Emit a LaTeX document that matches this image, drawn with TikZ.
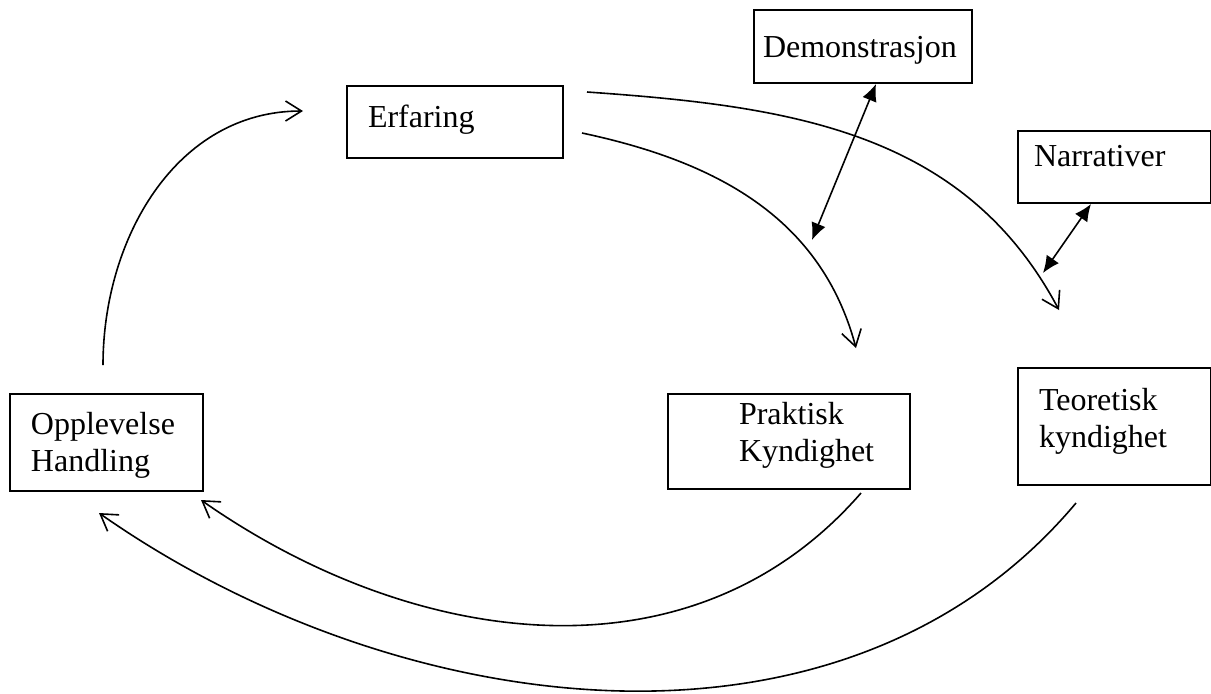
\documentclass[tikz,border=0pt]{standalone}
\usepackage{fontspec}
\setmainfont{Liberation Serif}
\usepackage{tikz}
\usetikzlibrary{arrows.meta}

\begin{document}
\begin{tikzpicture}[x=0.5pt,y=-0.5pt,
    box/.style={draw,line width=1pt,anchor=north west,align=left,inner ysep=0pt,
                font=\fontsize{16}{18.5}\selectfont},
    flow/.style={line width=0.8pt,-{Straight Barb[length=8pt,width=10pt]}},
    link/.style={line width=0.8pt,{Latex[length=8.5pt,width=7.5pt]}-{Latex[length=8.5pt,width=7.5pt]}}]
\useasboundingbox (0,0) rectangle (1211,693);
%% boxes
\node[box,text width=100pt,inner xsep=4.5pt,text height=23.5pt,text depth=13pt] (demo) at (753,9) {Demonstrasjon};
\node[box,text width=87pt,inner xsep=10.5pt,text height=20.5pt,text depth=15.5pt] (erf) at (346,85) {Erfaring};
\node[box,text width=80.5pt,inner xsep=8pt,text height=17.5pt,text depth=18.5pt] (narr) at (1017,130) {Narrativer};
\node[box,text width=75.5pt,inner xsep=10.5pt,text height=20pt,text depth=28.5pt] (oppl) at (9,393) {Opplevelse\\Handling};
\node[box,text width=50pt,inner xsep=35.5pt,text height=15pt,text depth=32.5pt] (prak) at (667,393) {Praktisk\\Kyndighet};
\node[box,text width=75.5pt,inner xsep=10.5pt,text height=21pt,text depth=37.5pt] (teor) at (1017,367) {Teoretisk\\kyndighet};
\coordinate (demoend) at (812,240);
\coordinate (narrend) at (1043,273);
%% the cycle
\draw[flow] ([xshift=-1.75pt,yshift=14pt]oppl.north) to[out=90,in=180] ([xshift=-21.5pt,yshift=5.5pt]erf.west);
\draw[flow] ([xshift=9pt,yshift=-5.5pt]erf.east) to[out=-12,in=105] ([xshift=33.5pt,yshift=22.5pt]prak.north);
\draw[flow] ([xshift=11.5pt,yshift=-3.5pt]erf.north east) to[out=-4,in=118] ([xshift=-27.75pt,yshift=28.5pt]teor.north);
\draw[flow] ([xshift=36pt,yshift=-1.5pt]prak.south) to[out=229,in=-35] ([xshift=-1.5pt,yshift=-4pt]oppl.south east);
\draw[flow] ([xshift=-19.25pt,yshift=-8.5pt]teor.south) to[out=230,in=-35,looseness=0.95] ([xshift=-3.75pt,yshift=-10.5pt]oppl.south);
%% double arrows
\draw[link] ([xshift=6.5pt]demo.south) -- (demoend);
\draw[link] ([xshift=-11.75pt]narr.south) -- (narrend);
\end{tikzpicture}
\end{document}
